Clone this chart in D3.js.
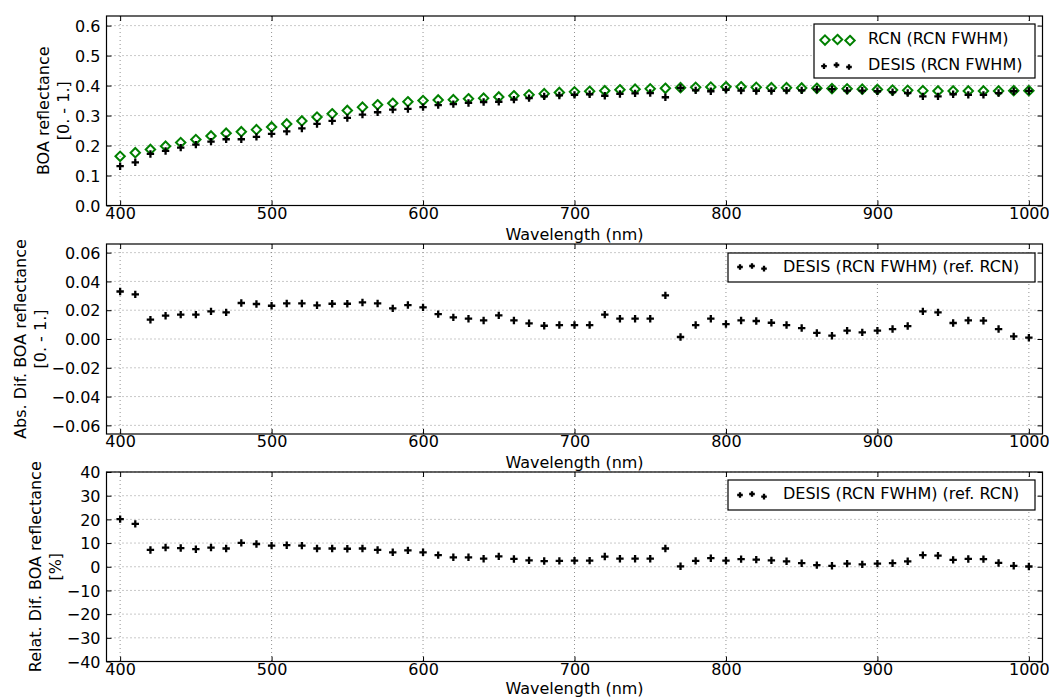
<!DOCTYPE html>
<html><head><meta charset="utf-8">
<script src="https://cdn.jsdelivr.net/npm/d3@7"></script>
<style>
body{margin:0;background:#fff;}
text{font-family:"DejaVu Sans",sans-serif;fill:#000;}
</style></head>
<body><svg id="c" width="1049" height="698"></svg>
<script>
const wavelengths = [400,410,420,430,440,450,460,470,480,490,500,510,520,530,540,550,560,570,580,590,600,610,620,630,640,650,660,670,680,690,700,710,720,730,740,750,760,770,780,790,800,810,820,830,840,850,860,870,880,890,900,910,920,930,940,950,960,970,980,990,1000];
const rcn = [0.164,0.176,0.187,0.198,0.210,0.220,0.232,0.241,0.246,0.253,0.262,0.272,0.282,0.295,0.306,0.317,0.328,0.336,0.341,0.346,0.350,0.352,0.353,0.356,0.358,0.362,0.366,0.369,0.373,0.377,0.379,0.381,0.383,0.386,0.388,0.389,0.391,0.393,0.394,0.395,0.396,0.396,0.394,0.393,0.393,0.392,0.391,0.390,0.389,0.388,0.387,0.385,0.384,0.383,0.382,0.382,0.382,0.382,0.382,0.383,0.383];
const desis = [0.131,0.144,0.172,0.182,0.193,0.203,0.213,0.221,0.221,0.229,0.239,0.247,0.257,0.272,0.282,0.292,0.303,0.311,0.320,0.322,0.328,0.335,0.338,0.342,0.345,0.346,0.353,0.358,0.364,0.367,0.369,0.371,0.366,0.372,0.374,0.375,0.361,0.392,0.384,0.381,0.386,0.383,0.382,0.382,0.383,0.384,0.387,0.388,0.383,0.383,0.381,0.378,0.375,0.364,0.364,0.371,0.369,0.369,0.375,0.381,0.382];
const absDiff = [0.0330,0.0310,0.0134,0.0162,0.0169,0.0169,0.0192,0.0185,0.0250,0.0243,0.0231,0.0247,0.0247,0.0234,0.0245,0.0245,0.0254,0.0247,0.0213,0.0236,0.0220,0.0173,0.0150,0.0141,0.0129,0.0164,0.0129,0.0109,0.0092,0.0097,0.0097,0.0097,0.0169,0.0141,0.0141,0.0141,0.0303,0.0014,0.0097,0.0141,0.0104,0.0129,0.0125,0.0113,0.0097,0.0076,0.0042,0.0023,0.0058,0.0046,0.0058,0.0069,0.0090,0.0192,0.0185,0.0111,0.0129,0.0127,0.0069,0.0018,0.0009];
const relDiff = [20.1,18.1,7.1,8.1,7.9,7.4,8.1,7.7,10.1,9.6,8.9,9.1,8.9,7.7,7.7,7.6,7.7,7.1,6.1,6.9,6.1,4.9,4.0,4.0,3.4,4.4,3.3,2.7,2.4,2.5,2.6,2.6,4.3,3.4,3.4,3.4,7.7,0.2,2.5,3.6,2.6,3.2,3.0,2.7,2.3,1.5,0.7,0.4,1.3,1.0,1.3,1.5,2.3,4.9,4.7,2.9,3.3,3.2,1.6,0.4,0.1];
const xTicks = [400,500,600,700,800,900,1000];
const yTicksTop = [0.0,0.1,0.2,0.3,0.4,0.5,0.6];
const yTicksMid = [-0.06,-0.04,-0.02,0.00,0.02,0.04,0.06];
const yTicksBot = [-40,-30,-20,-10,0,10,20,30,40];

const svg = d3.select("#c");
svg.append("rect").attr("width",1049).attr("height",698).attr("fill","#fff");
const L = 106.5, R = 1042.5;
const x = d3.scaleLinear().domain([391,1009]).range([L,R]);
const FS = 16;
const minus = s => s.replace("-", "\u2212");

function diamond(g, cx, cy){
  g.append("path").attr("d",`M${cx},${cy-4.7}L${cx+4.7},${cy}L${cx},${cy+4.7}L${cx-4.7},${cy}Z`)
   .attr("fill","none").attr("stroke","#008000").attr("stroke-width",2);
}
function cross(g, cx, cy, r){
  r = r||3.7;
  g.append("path").attr("d",`M${cx-r},${cy}H${cx+r}M${cx},${cy-r}V${cy+r}`)
   .attr("stroke","#000").attr("stroke-width",2.3).attr("fill","none");
}

function panel(top, bottom, domain, yTicks, fmt, ylab1, ylab2, ylabX1, ylabX2, xlabOff){
  const y = d3.scaleLinear().domain(domain).range([bottom, top]);
  const g = svg.append("g");
  const grid = g.append("g").attr("stroke","#777").attr("stroke-width",0.8).attr("stroke-dasharray","1,3");
  xTicks.forEach(t=>grid.append("line").attr("x1",x(t)).attr("x2",x(t)).attr("y1",top).attr("y2",bottom));
  yTicks.forEach(t=>grid.append("line").attr("x1",L).attr("x2",R).attr("y1",y(t)).attr("y2",y(t)));
  const ax = g.append("g").attr("transform",`translate(0,${bottom})`)
    .call(d3.axisBottom(x).tickValues(xTicks).tickSize(-5).tickPadding(5).tickFormat(d3.format("d")));
  const axT = g.append("g").attr("transform",`translate(0,${top})`)
    .call(d3.axisTop(x).tickValues(xTicks).tickSize(-5).tickFormat(""));
  const ay = g.append("g").attr("transform",`translate(${L},0)`)
    .call(d3.axisLeft(y).tickValues(yTicks).tickSize(-5).tickPadding(6).tickFormat(d=>minus(fmt(d))));
  const ayR = g.append("g").attr("transform",`translate(${R},0)`)
    .call(d3.axisRight(y).tickValues(yTicks).tickSize(-5).tickFormat(""));
  [ax,axT,ay,ayR].forEach(a=>{
    a.select(".domain").remove();
    a.selectAll(".tick line").attr("stroke","#000").attr("stroke-width",1);
    a.selectAll("text").attr("font-size",FS).attr("font-family","DejaVu Sans").attr("fill","#000");
  });
  ax.selectAll("text").attr("y",2).attr("dy","0.71em");
  ay.selectAll("text").attr("dy","0.36em");
  g.append("text").attr("x",(L+R)/2).attr("y",bottom+xlabOff).attr("text-anchor","middle")
    .attr("dominant-baseline","central").attr("font-size",FS).text("Wavelength (nm)");
  const cy = (top+bottom)/2;
  g.append("text").attr("transform",`translate(${ylabX1},${cy}) rotate(-90)`).attr("text-anchor","middle")
    .attr("dominant-baseline","central").attr("font-size",FS).text(ylab1);
  g.append("text").attr("transform",`translate(${ylabX2},${cy}) rotate(-90)`).attr("text-anchor","middle")
    .attr("dominant-baseline","central").attr("font-size",FS).text(ylab2);
  const marks = g.append("g");
  return {y, g, marks, top, bottom};
}

function frame(p){
  p.g.append("rect").attr("x",L).attr("y",p.top).attr("width",R-L).attr("height",p.bottom-p.top)
    .attr("fill","none").attr("stroke","#000").attr("stroke-width",1.2);
}

function legend(g, x0, y0, x1, y1){
  g.append("rect").attr("x",x0).attr("y",y0).attr("width",x1-x0).attr("height",y1-y0)
    .attr("fill","#fff").attr("stroke","#000").attr("stroke-width",1.2);
}

// Top panel
const p1 = panel(16, 205.5, [0,0.632], yTicksTop, d3.format(".1f"), "BOA reflectance", "[0. - 1.]", 43, 63, 29);
wavelengths.forEach((w,i)=>diamond(p1.marks, x(w), p1.y(rcn[i])));
wavelengths.forEach((w,i)=>cross(p1.marks, x(w), p1.y(desis[i])));
legend(p1.g, 814, 24, 1035, 78);
[[825,0.6],[837.5,0],[850,1]].forEach(([mx,o])=>diamond(p1.g, mx, 39.5+o));
[[824,1.2],[836.5,0],[849,2]].forEach(([mx,o])=>cross(p1.g, mx, 65+o, 2.8));
p1.g.append("text").attr("x",868).attr("y",38).attr("dominant-baseline","central").attr("font-size",FS).text("RCN (RCN FWHM)");
p1.g.append("text").attr("x",868).attr("y",64).attr("dominant-baseline","central").attr("font-size",FS).text("DESIS (RCN FWHM)");
frame(p1);

// Middle panel
const p2 = panel(244, 434, [-0.066,0.066], yTicksMid, d3.format(".2f"), "Abs. Dif. BOA reflectance", "[0. - 1.]", 20, 40, 28);
wavelengths.forEach((w,i)=>cross(p2.marks, x(w), p2.y(absDiff[i])));
legend(p2.g, 728, 253, 1035, 282);
[[740,1],[752,0],[764,2.6]].forEach(([mx,o])=>cross(p2.g, mx, 266+o, 2.8));
p2.g.append("text").attr("x",783).attr("y",266).attr("dominant-baseline","central").attr("font-size",FS).text("DESIS (RCN FWHM) (ref. RCN)");
frame(p2);

// Bottom panel
const p3 = panel(472, 661.5, [-40,40], yTicksBot, d3.format("d"), "Relat. Dif. BOA reflectance", "[%]", 35, 55, 26.5);
wavelengths.forEach((w,i)=>cross(p3.marks, x(w), p3.y(relDiff[i])));
legend(p3.g, 728, 480, 1035, 510);
[[740,1],[752,0],[764,2.6]].forEach(([mx,o])=>cross(p3.g, mx, 494+o, 2.8));
p3.g.append("text").attr("x",783).attr("y",493.5).attr("dominant-baseline","central").attr("font-size",FS).text("DESIS (RCN FWHM) (ref. RCN)");
frame(p3);
</script></body></html>
